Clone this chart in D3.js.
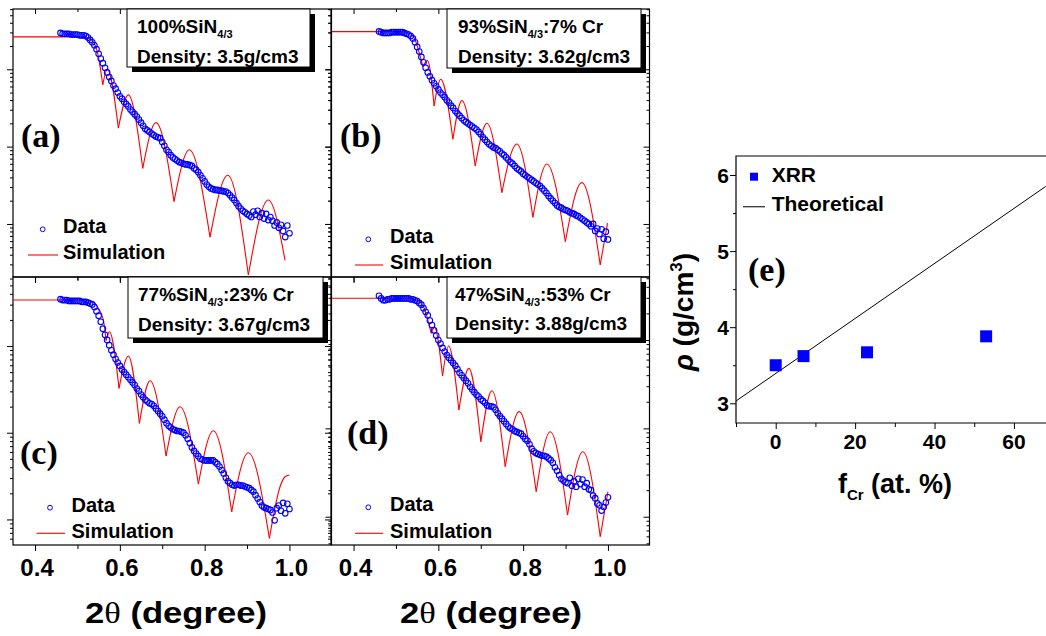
<!DOCTYPE html>
<html>
<head>
<meta charset="utf-8">
<script src="https://cdn.jsdelivr.net/npm/d3@7"></script>
<style>
  body { margin: 0; background: #fff; }
  text { font-family: "Liberation Sans", Arial, sans-serif; font-weight: bold; fill: #000; }
</style>
</head>
<body>
<div id="canvas"></div>
<script>
const width = 1046;
const height = 636;

// 2theta (degree) of the measured points, shared by the four XRR panels
const theta = [
  0.460,0.465,0.470,0.475,0.480,0.485,0.490,0.495,0.500,0.505,
  0.510,0.515,0.520,0.525,0.530,0.535,0.540,0.545,0.550,0.555,
  0.560,0.565,0.570,0.575,0.580,0.585,0.590,0.595,0.600,0.605,
  0.610,0.615,0.620,0.625,0.630,0.635,0.640,0.645,0.650,0.655,
  0.660,0.665,0.670,0.675,0.680,0.685,0.690,0.695,0.700,0.705,
  0.710,0.715,0.720,0.725,0.730,0.735,0.740,0.745,0.750,0.755,
  0.760,0.765,0.770,0.775,0.780,0.785,0.790,0.795,0.800,0.805,
  0.810,0.815,0.820,0.825,0.830,0.835,0.840,0.845,0.850,0.855,
  0.860,0.865,0.870,0.875,0.880,0.885,0.890,0.895,0.900,0.905,
  0.910,0.915,0.920,0.925,0.930,0.935,0.940,0.945,0.950,0.955,
  0.960,0.965,0.970,0.975,0.980,0.985,0.990,0.995,1.000
];

// measured reflectivity, log10 (arbitrary reference)
const dataA = [
  0.47,0.46,0.46,0.46,0.46,0.45,0.45,0.45,0.45,0.44,
  0.44,0.44,0.43,0.41,0.38,0.35,0.31,0.26,0.20,0.14,
  0.08,0.02,-0.04,-0.10,-0.15,-0.21,-0.25,-0.30,-0.35,-0.38,
  -0.42,-0.45,-0.48,-0.52,-0.55,-0.58,-0.61,-0.65,-0.69,-0.73,
  -0.77,-0.79,-0.81,-0.83,-0.85,-0.87,-0.88,-0.89,-0.94,-0.99,
  -1.04,-1.07,-1.11,-1.14,-1.16,-1.18,-1.20,-1.21,-1.22,-1.23,
  -1.23,-1.24,-1.25,-1.28,-1.30,-1.33,-1.37,-1.41,-1.45,-1.49,
  -1.52,-1.54,-1.55,-1.56,-1.56,-1.57,-1.57,-1.58,-1.58,-1.60,
  -1.63,-1.66,-1.69,-1.73,-1.77,-1.80,-1.83,-1.85,-1.87,-1.89,
  -1.91,-1.84,-1.88,-1.83,-1.91,-1.86,-1.93,-1.87,-1.95,-1.91,
  -1.96,-2.02,-1.98,-2.05,-2.01,-2.09,-2.17,-2.02,-2.12
];
const dataB = [
  0.49,0.48,0.47,0.47,0.47,0.47,0.48,0.48,0.48,0.48,
  0.48,0.48,0.47,0.46,0.45,0.43,0.40,0.35,0.29,0.23,
  0.16,0.09,0.02,-0.04,-0.09,-0.14,-0.18,-0.22,-0.26,-0.30,
  -0.33,-0.36,-0.40,-0.43,-0.47,-0.50,-0.54,-0.57,-0.60,-0.63,
  -0.66,-0.68,-0.70,-0.72,-0.74,-0.76,-0.78,-0.81,-0.84,-0.88,
  -0.91,-0.94,-0.97,-0.99,-1.01,-1.02,-1.04,-1.06,-1.09,-1.11,
  -1.14,-1.17,-1.20,-1.22,-1.25,-1.28,-1.30,-1.32,-1.35,-1.37,
  -1.39,-1.41,-1.43,-1.45,-1.47,-1.49,-1.51,-1.54,-1.57,-1.60,
  -1.64,-1.67,-1.70,-1.73,-1.76,-1.78,-1.79,-1.81,-1.82,-1.83,
  -1.85,-1.86,-1.87,-1.89,-1.90,-1.92,-1.94,-1.96,-1.98,-2.00,
  -2.03,-2.00,-2.09,-2.06,-2.13,-2.07,-2.19,-2.10,-2.20
];
const dataC = [
  0.54,0.53,0.53,0.53,0.52,0.52,0.52,0.52,0.52,0.52,
  0.51,0.51,0.51,0.50,0.49,0.48,0.45,0.40,0.35,0.28,
  0.20,0.13,0.07,0.01,-0.05,-0.10,-0.15,-0.19,-0.23,-0.27,
  -0.30,-0.33,-0.36,-0.39,-0.42,-0.45,-0.49,-0.52,-0.56,-0.59,
  -0.62,-0.64,-0.66,-0.67,-0.69,-0.72,-0.75,-0.78,-0.81,-0.85,
  -0.89,-0.92,-0.94,-0.96,-0.97,-0.98,-0.98,-0.99,-1.00,-1.03,
  -1.07,-1.12,-1.17,-1.21,-1.24,-1.27,-1.30,-1.31,-1.32,-1.32,
  -1.32,-1.32,-1.32,-1.34,-1.36,-1.39,-1.43,-1.47,-1.52,-1.56,
  -1.58,-1.60,-1.61,-1.60,-1.60,-1.61,-1.61,-1.62,-1.63,-1.64,
  -1.66,-1.68,-1.72,-1.76,-1.80,-1.84,-1.86,-1.87,-1.88,-1.89,
  -1.92,-2.01,-1.87,-1.84,-1.90,-1.81,-1.93,-1.82,-1.88
];
const dataD = [
  0.50,0.47,0.45,0.45,0.46,0.46,0.47,0.47,0.47,0.47,
  0.47,0.47,0.47,0.47,0.47,0.46,0.46,0.45,0.44,0.42,
  0.40,0.36,0.32,0.28,0.22,0.17,0.11,0.05,0.00,-0.04,
  -0.09,-0.13,-0.17,-0.20,-0.23,-0.26,-0.29,-0.33,-0.37,-0.40,
  -0.43,-0.46,-0.49,-0.53,-0.56,-0.59,-0.62,-0.64,-0.67,-0.69,
  -0.71,-0.74,-0.75,-0.75,-0.76,-0.79,-0.83,-0.86,-0.89,-0.92,
  -0.95,-0.98,-1.00,-1.01,-1.03,-1.04,-1.05,-1.06,-1.09,-1.12,
  -1.14,-1.18,-1.23,-1.26,-1.28,-1.29,-1.30,-1.31,-1.31,-1.32,
  -1.34,-1.36,-1.39,-1.44,-1.48,-1.53,-1.57,-1.59,-1.61,-1.62,
  -1.56,-1.65,-1.60,-1.66,-1.57,-1.63,-1.58,-1.66,-1.62,-1.69,
  -1.70,-1.76,-1.79,-1.85,-1.87,-1.93,-1.89,-1.84,-1.78
];

// simulation: [2theta, log10 R] at the flat part, peaks and dips
const simA = [[0.348,0.42],[0.50,0.42],[0.52,0.415],[0.535,0.37],[0.548,0.20],[0.5597,-0.20],
  [0.5705,0.00],[0.5965,-0.76],[0.620,-0.33],[0.654,-1.28],[0.6854,-0.69],[0.7278,-1.71],
  [0.7639,-1.04],[0.8127,-2.17],[0.8545,-1.37],[0.9031,-2.66],[0.9502,-1.69],[0.9896,-2.47]];
const simB = [[0.348,0.487],[0.51,0.487],[0.535,0.46],[0.5454,0.38],[0.553,0.25],[0.5635,0.034],
  [0.5745,0.112],[0.590,-0.474],[0.6057,-0.129],[0.6343,-0.905],[0.6555,-0.405],[0.687,-1.25],
  [0.7145,-0.698],[0.7498,-1.595],[0.7852,-0.966],[0.823,-1.914],[0.856,-1.224],[0.8995,-2.228],
  [0.9385,-1.466],[0.9818,-2.53],[0.999,-1.99]];
const simC = [[0.348,0.531],[0.52,0.531],[0.54,0.50],[0.5494,0.435],[0.5612,0.30],[0.5675,0.062],
  [0.5753,0.165],[0.5981,-0.488],[0.6201,-0.115],[0.6461,-0.892],[0.6712,-0.40],[0.709,-1.269],
  [0.742,-0.70],[0.7852,-1.592],[0.8206,-0.977],[0.8638,-1.912],[0.9031,-1.231],[0.9527,-2.219],
  [0.9778,-1.623],[0.9896,-1.508],[1.0,-1.488]];
const simD = [[0.348,0.472],[0.53,0.472],[0.55,0.45],[0.5651,0.377],[0.5832,0.075],[0.591,0.143],
  [0.6099,-0.408],[0.6241,-0.068],[0.6484,-0.792],[0.672,-0.321],[0.7003,-1.151],[0.7263,-0.574],
  [0.7577,-1.434],[0.7907,-0.811],[0.8308,-1.717],[0.8638,-1.038],[0.9047,-1.981],[0.9409,-1.264],
  [0.9818,-2.226],[1.0,-1.717]];

const thetaTicks = [0.4, 0.5, 0.6, 0.7, 0.8, 0.9, 1.0];
const thetaLabels = [0.4, 0.6, 0.8, 1.0];

// panel (e)
const fCr = [0, 7, 23, 53];
const rhoXRR = [3.5, 3.62, 3.67, 3.88];
const theoryF = [-10, 68];
const theoryRho = [3.03, 5.85];
const fTicks = [-10, 0, 10, 20, 30, 40, 50, 60];
const fLabels = [0, 20, 40, 60];
const rhoTicks = [3, 3.5, 4, 4.5, 5, 5.5, 6];
const rhoLabels = [3, 4, 5, 6];

const svg = d3.select("#canvas")
    .append("svg")
    .attr("width", width)
    .attr("height", height);

const panels = [
  { key: "a", left: 13, top: 9, bottom: 277, vTop: 0.78, vBot: -2.686, data: dataA, sim: simA,
    label: "(a)", lx: 21, ly: 147, box: [127, 9, 183, 58], t1: ["100%SiN", "4/3", ""],
    t2: "Density: 3.5g/cm3", tx: 137, ty: [33, 63],
    leg: { cx: 42.7, cy: 229.3, ty1: 233.3, x1: 28, x2: 58, ly: 255, ty2: 259.3, tx: 63 } },
  { key: "b", left: 331.5, top: 9, bottom: 277, vTop: 0.78, vBot: -2.686, data: dataB, sim: simB,
    label: "(b)", lx: 340, ly: 147, box: [447, 9, 194, 59], t1: ["93%SiN", "4/3", ":7% Cr"],
    t2: "Density: 3.62g/cm3", tx: 458, ty: [33, 63],
    leg: { cx: 368.3, cy: 239.3, ty1: 243.3, x1: 355, x2: 383, ly: 265, ty2: 269.3, tx: 390 } },
  { key: "c", left: 13, top: 277, bottom: 545, vTop: 0.796, vBot: -2.295, data: dataC, sim: simC,
    label: "(c)", lx: 20, ly: 464, box: [128, 277, 195, 61], t1: ["77%SiN", "4/3", ":23% Cr"],
    t2: "Density: 3.67g/cm3", tx: 138, ty: [300.7, 331],
    leg: { cx: 50, cy: 507.7, ty1: 511.7, x1: 36.5, x2: 65, ly: 533.3, ty2: 538.3, tx: 71.5 }, labels: true, titleX: 176 },
  { key: "d", left: 331.5, top: 277, bottom: 545, vTop: 0.713, vBot: -2.32, data: dataD, sim: simD,
    label: "(d)", lx: 347, ly: 444, box: [447, 277, 194, 61], t1: ["47%SiN", "4/3", ":53% Cr"],
    t2: "Density: 3.88g/cm3", tx: 455, ty: [300.7, 330],
    leg: { cx: 368.3, cy: 507.3, ty1: 510.7, x1: 355, x2: 383, ly: 533.3, ty2: 538.3, tx: 390 }, labels: true, titleX: 491 }
];

// split the simulation at its dips so that the dips stay sharp
function splitAtDips(pts) {
  const segs = [];
  let cur = [pts[0]];
  for (let i = 1; i < pts.length; i++) {
    cur.push(pts[i]);
    if (i < pts.length - 1 && pts[i][1] < pts[i - 1][1] && pts[i][1] < pts[i + 1][1]) {
      segs.push(cur);
      cur = [pts[i]];
    }
  }
  segs.push(cur);
  return segs;
}

panels.forEach(function(p) {
  const w = 318;
  const x = d3.scaleLinear().domain([0.348, 1.098]).range([p.left, p.left + w]);
  const y = d3.scaleLog().domain([Math.pow(10, p.vBot), Math.pow(10, p.vTop)]).range([p.bottom, p.top]);
  const g = svg.append("g");

  g.append("clipPath").attr("id", "clip-" + p.key)
    .append("rect").attr("x", p.left).attr("y", p.top).attr("width", w).attr("height", p.bottom - p.top);

  const logTicks = y.ticks();
  const isMajor = d => Math.abs(Math.log10(d) - Math.round(Math.log10(d))) < 1e-6;

  // left axis (ticks outward)
  g.append("g")
    .attr("transform", `translate(${p.left},0)`)
    .call(d3.axisLeft(y).tickValues(logTicks).tickFormat("").tickSizeOuter(0))
    .call(a => a.select(".domain").remove())
    .selectAll(".tick line").attr("x2", d => isMajor(d) ? -6 : -3);

  // right axis (ticks inward)
  g.append("g")
    .attr("transform", `translate(${p.left + w},0)`)
    .call(d3.axisLeft(y).tickValues(logTicks).tickFormat("").tickSizeOuter(0))
    .call(a => a.select(".domain").remove())
    .selectAll(".tick line").attr("x2", d => isMajor(d) ? -6 : -3);

  // bottom axis
  g.append("g")
    .attr("transform", `translate(0,${p.bottom})`)
    .call(d3.axisBottom(x).tickValues(thetaTicks).tickFormat("").tickSizeOuter(0))
    .call(a => a.select(".domain").remove())
    .selectAll(".tick line").attr("y2", d => thetaLabels.includes(d) ? 6 : 4);

  // top axis
  g.append("g")
    .attr("transform", `translate(0,${p.top})`)
    .call(d3.axisBottom(x).tickValues(thetaTicks).tickFormat("").tickSizeOuter(0))
    .call(a => a.select(".domain").remove())
    .selectAll(".tick line").attr("y2", d => thetaLabels.includes(d) ? 5 : 3);

  g.selectAll(".tick line").attr("stroke", "#000").attr("stroke-width", 1);

  g.append("rect")
    .attr("x", p.left).attr("y", p.top)
    .attr("width", w).attr("height", p.bottom - p.top)
    .attr("fill", "none").attr("stroke", "#000").attr("stroke-width", 1.2);

  // simulation
  const line = d3.line()
    .x(d => x(d[0]))
    .y(d => y(Math.pow(10, d[1])))
    .curve(d3.curveMonotoneX);

  g.append("g").attr("clip-path", `url(#clip-${p.key})`)
    .selectAll("path")
    .data(splitAtDips(p.sim))
    .join("path")
    .attr("d", line)
    .attr("fill", "none")
    .attr("stroke", "#ff0000")
    .attr("stroke-width", 1.1);

  // data
  g.append("g")
    .selectAll("circle")
    .data(p.data)
    .join("circle")
    .attr("cx", (d, i) => x(theta[i]))
    .attr("cy", d => y(Math.pow(10, d)))
    .attr("r", 2.8)
    .attr("fill", "none")
    .attr("stroke", "#0000ff")
    .attr("stroke-width", 1.1);

  // info box with shadow
  const [bx, by, bw, bh] = p.box;
  g.append("rect").attr("x", bx + 5).attr("y", by + 5).attr("width", bw).attr("height", bh).attr("fill", "#000");
  g.append("rect").attr("x", bx).attr("y", by).attr("width", bw).attr("height", bh)
    .attr("fill", "#fff").attr("stroke", "#000").attr("stroke-width", 1);

  const t1 = g.append("text").attr("x", p.tx).attr("y", p.ty[0]).attr("font-size", 19);
  t1.append("tspan").text(p.t1[0]);
  t1.append("tspan").attr("font-size", 11).attr("dy", 5).text(p.t1[1]);
  t1.append("tspan").attr("dy", -5).text(p.t1[2]);

  g.append("text").attr("x", p.tx).attr("y", p.ty[1]).attr("font-size", 19).text(p.t2);

  // panel letter
  g.append("text")
    .attr("x", p.lx).attr("y", p.ly)
    .attr("font-size", 34)
    .style("font-family", "'Liberation Serif', 'Times New Roman', serif")
    .text(p.label);

  // legend
  const L = p.leg;
  g.append("circle").attr("cx", L.cx).attr("cy", L.cy).attr("r", 2.4)
    .attr("fill", "none").attr("stroke", "#0000ff").attr("stroke-width", 1);
  g.append("text").attr("x", L.tx).attr("y", L.ty1).attr("font-size", 20).text("Data");
  g.append("line").attr("x1", L.x1).attr("x2", L.x2).attr("y1", L.ly).attr("y2", L.ly)
    .attr("stroke", "#ff0000").attr("stroke-width", 1.1);
  g.append("text").attr("x", L.tx).attr("y", L.ty2).attr("font-size", 20).text("Simulation");

  if (p.labels) {
    g.selectAll(".xlab")
      .data(thetaLabels)
      .join("text")
      .attr("x", d => x(d) + 2)
      .attr("y", 576)
      .attr("text-anchor", "middle")
      .attr("font-size", 24)
      .text(d => d3.format(".1f")(d));

    const tt = g.append("text")
      .attr("x", p.titleX).attr("y", 623)
      .attr("text-anchor", "middle")
      .attr("font-size", 29)
      .attr("textLength", 182)
      .attr("lengthAdjust", "spacingAndGlyphs");
    tt.append("tspan").text("2");
    tt.append("tspan").style("font-family", "'Liberation Serif', serif").style("font-weight", "normal").text("θ");
    tt.append("tspan").text(" (degree)");
  }
});

// panel (e)
const xE = d3.scaleLinear().domain([-10, 68]).range([736, 1045.7]);
const yE = d3.scaleLinear().domain([2.741, 6.25]).range([423, 156]);
const gE = svg.append("g");

gE.append("g")
  .attr("transform", "translate(736,0)")
  .call(d3.axisLeft(yE).tickValues(rhoTicks).tickFormat("").tickSizeOuter(0))
  .call(a => a.select(".domain").remove())
  .selectAll(".tick line").attr("x2", d => rhoLabels.includes(d) ? -6 : -3);

gE.append("g")
  .attr("transform", "translate(0,423)")
  .call(d3.axisBottom(xE).tickValues(fTicks).tickFormat("").tickSizeOuter(0))
  .call(a => a.select(".domain").remove())
  .selectAll(".tick line").attr("y2", d => fLabels.includes(d) ? 6 : 4);

gE.selectAll(".tick line").attr("stroke", "#000");

gE.append("path")
  .attr("d", "M1046,156H736V423H1046")
  .attr("fill", "none").attr("stroke", "#000").attr("stroke-width", 1.2);

gE.selectAll(".ylab")
  .data(rhoLabels)
  .join("text")
  .attr("x", 729)
  .attr("y", d => yE(d))
  .attr("dy", "0.36em")
  .attr("text-anchor", "end")
  .attr("font-size", 21)
  .text(d => d);

gE.selectAll(".xlabE")
  .data(fLabels)
  .join("text")
  .attr("x", d => xE(d))
  .attr("y", 449)
  .attr("text-anchor", "middle")
  .attr("font-size", 21)
  .text(d => d);

// theoretical line
gE.append("path")
  .datum(theoryF.map((f, i) => [f, theoryRho[i]]))
  .attr("d", d3.line().x(d => xE(d[0])).y(d => yE(d[1])))
  .attr("fill", "none").attr("stroke", "#000").attr("stroke-width", 1);

// XRR squares
gE.selectAll(".sq")
  .data(fCr)
  .join("rect")
  .attr("x", d => xE(d) - 6)
  .attr("y", (d, i) => yE(rhoXRR[i]) - 6)
  .attr("width", 12).attr("height", 12)
  .attr("fill", "#0000ff");

// legend (e)
gE.append("rect").attr("x", 750).attr("y", 172.7).attr("width", 8).attr("height", 8).attr("fill", "#0000ff");
gE.append("text").attr("x", 771.7).attr("y", 181.7).attr("font-size", 21).text("XRR");
gE.append("line").attr("x1", 743).attr("x2", 765).attr("y1", 206.7).attr("y2", 206.7)
  .attr("stroke", "#333").attr("stroke-width", 1.3);
gE.append("text").attr("x", 771.7).attr("y", 210.7).attr("font-size", 21).text("Theoretical");

gE.append("text")
  .attr("x", 748).attr("y", 281)
  .attr("font-size", 34)
  .style("font-family", "'Liberation Serif', 'Times New Roman', serif")
  .text("(e)");

// axis titles (e)
const xt = gE.append("text").attr("x", 895).attr("y", 493).attr("text-anchor", "middle").attr("font-size", 27);
xt.append("tspan").text("f");
xt.append("tspan").attr("font-size", 15).attr("dy", 7).text("Cr");
xt.append("tspan").attr("dy", -7).text(" (at. %)");

const yt = gE.append("text")
  .attr("transform", "translate(693,312) rotate(-90)")
  .attr("text-anchor", "middle")
  .attr("font-size", 28);
yt.append("tspan").style("font-style", "italic").text("ρ");
yt.append("tspan").text(" (g/cm");
yt.append("tspan").attr("font-size", 17).attr("dy", -11).text("3");
yt.append("tspan").attr("dy", 11).text(")");
</script>
</body>
</html>
